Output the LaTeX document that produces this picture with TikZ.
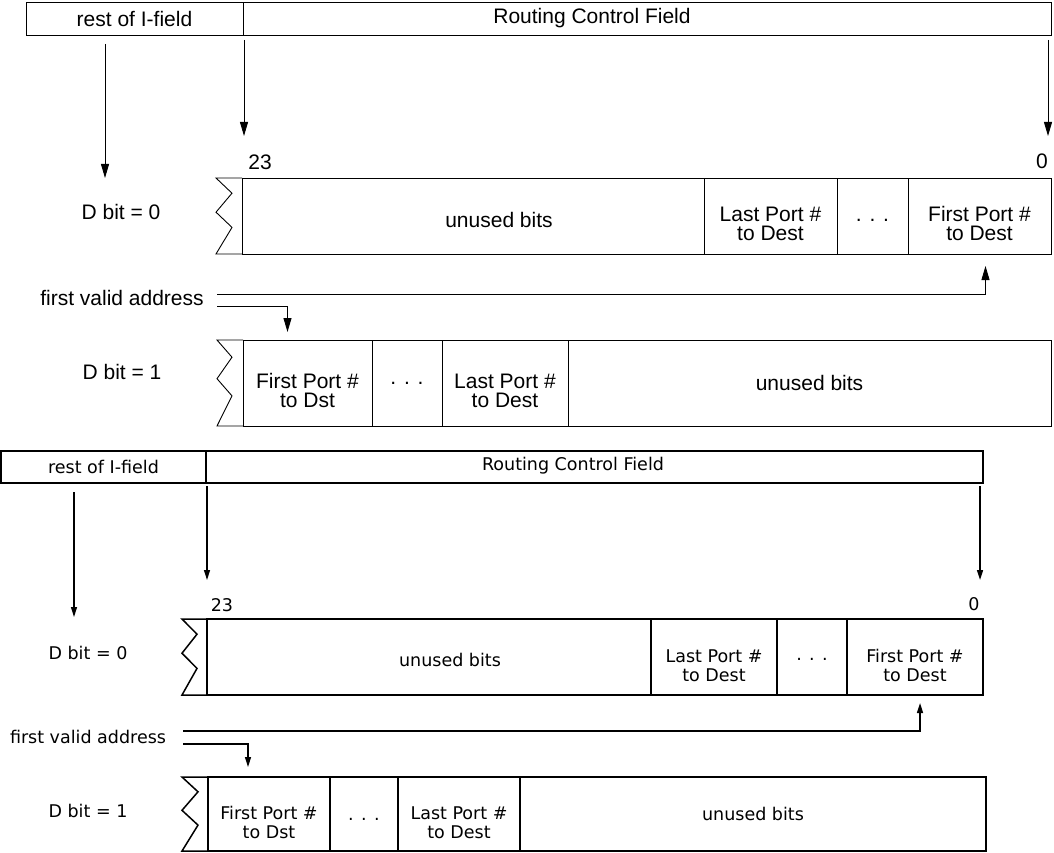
\documentclass[tikz,border=0pt]{standalone}
\usepackage{fontspec}
\setmainfont{Liberation Sans}
\newfontfamily\pixfont{DejaVu Sans}
\usetikzlibrary{positioning,calc,arrows.meta}
\tikzstyle{cell}=[rectangle, draw=black, outer sep=0pt, inner sep=0pt, align=center]
\tikzstyle{ptrA}=[-{Triangle[length=14pt,width=8pt]}]
\tikzstyle{ptrB}=[-{Triangle[length=10pt,width=6pt]}]
\tikzstyle{fontA}=[font=\fontsize{21}{19}\selectfont]
\tikzstyle{fontB}=[font=\pixfont\fontsize{17.5}{19}\selectfont]
% two-line cell texts sit a little low in their cells
\newcommand{\lowr}{\rule{0pt}{30pt}}
% torn left end of a register: first cell, overhang, zig depth
\newcommand{\torn}[3]{%
  \draw (#1.north west) -- ++(-#2,0)
    -- ($(#1.north west)!0.2!(#1.south west)+(-#2+#3,0)$)
    -- ($(#1.north west)!0.45!(#1.south west)+(-#2,0)$)
    -- ($(#1.north west)!0.65!(#1.south west)+(-#2+#3,0)$)
    -- ($(#1.south west)+(-#2,0)$) -- (#1.south west);}

\begin{document}
\begin{tikzpicture}[x=1pt,y=-1pt]
\useasboundingbox (0,0) rectangle (1054,853);

%%% upper drawing
\begin{scope}[fontA, line width=0.9pt]
	\node (restA) [cell, minimum width=217pt, minimum height=33pt] at (134.5,18.5) {rest of I-field};
	\node (rcfA) [cell, minimum width=808pt, minimum height=33pt, right=0pt of restA] {};
	\node (rcfAtext) at (592,18) {Routing Control Field};

	\node (bitA23) at (260,162) {23};
	\node (bitA0) at (1042,161) {0};

	% D bit = 0
	\node (unusedA1) [cell, minimum width=462pt, minimum height=76pt] at (473,216) {};
	\node (unusedA1text) at (499,220) {unused bits};
	\node (lastA1) [cell, minimum width=133pt, minimum height=76pt, right=0pt of unusedA1] {\lowr Last Port \#\\to Dest};
	\node (dotsA1) [cell, minimum width=71pt, minimum height=76pt, right=0pt of lastA1] {\rule{0pt}{12pt}. . .};
	\node (firstA1) [cell, minimum width=143pt, minimum height=76pt, right=0pt of dotsA1] {\lowr First Port \#\\to Dest};
	\torn{unusedA1}{26}{16}

	% D bit = 1
	\node (firstA2) [cell, minimum width=129pt, minimum height=86pt] at (307.5,383) {\lowr First Port \#\\to Dst};
	\node (dotsA2) [cell, minimum width=70pt, minimum height=86pt, right=0pt of firstA2] {. . .};
	\node (lastA2) [cell, minimum width=126pt, minimum height=86pt, right=0pt of dotsA2] {\lowr Last Port \#\\to Dest};
	\node (unusedA2) [cell, minimum width=483pt, minimum height=86pt, right=0pt of lastA2] {unused bits};
	\torn{firstA2}{26}{15}

	\node (dbitA0) at (121,212) {D bit = 0};
	\node (fvaA) at (122,298) {first valid address};
	\node (dbitA1) at (122,372) {D bit = 1};

	\coordinate (tipA0) at (105,178);
	\coordinate (tipA23) at (244,136);
	\coordinate (tipA00) at (1048,136);
	\draw[ptrA] ($(restA.south -| tipA0)+(0,9)$) -- (tipA0);
	\draw[ptrA] ($(rcfA.south -| tipA23)+(0,5)$) -- (tipA23);
	\draw[ptrA] ($(rcfA.south -| tipA00)+(0,5)$) -- (tipA00);

	\draw[ptrA] ($(fvaA.east)+(10,-4)$) -| ($(firstA1.south)+(6,12)$);
	\draw[ptrA] ($(fvaA.east)+(10,8)$) -| ($(firstA2.north)+(-20,-8)$);
\end{scope}

%%% lower drawing
\begin{scope}[fontB, line width=1.5pt]
	\node (restB) [cell, minimum width=205pt, minimum height=32pt] at (103.5,467) {rest of I-field};
	\node (rcfB) [cell, minimum width=777pt, minimum height=32pt, right=0pt of restB] {};
	\node (rcfBtext) at (573,466) {Routing Control Field};

	\node (bitB23) at (222,605) {23};
	\node (bitB0) at (974,604) {0};

	% D bit = 0
	\node (unusedB1) [cell, minimum width=444pt, minimum height=76pt] at (429,657) {};
	\node (unusedB1text) at (450,660) {unused bits};
	\node (lastB1) [cell, minimum width=126pt, minimum height=76pt, right=0pt of unusedB1] {\lowr Last Port \#\\to Dest};
	\node (dotsB1) [cell, minimum width=70pt, minimum height=76pt, right=0pt of lastB1] {\rule{0pt}{6pt}. . .};
	\node (firstB1) [cell, minimum width=136pt, minimum height=76pt, right=0pt of dotsB1] {\lowr First Port \#\\to Dest};
	\torn{unusedB1}{25}{15}

	% D bit = 1
	\node (firstB2) [cell, minimum width=122pt, minimum height=74pt] at (269,814) {\lowr First Port \#\\to Dst};
	\node (dotsB2) [cell, minimum width=68pt, minimum height=74pt, right=0pt of firstB2] {\rule{0pt}{12pt}. . .};
	\node (lastB2) [cell, minimum width=122pt, minimum height=74pt, right=0pt of dotsB2] {\lowr Last Port \#\\to Dest};
	\node (unusedB2) [cell, minimum width=466pt, minimum height=74pt, right=0pt of lastB2] {unused bits};
	\torn{firstB2}{26}{16}

	\node (dbitB0) at (88,653) {D bit = 0};
	\node (fvaB) at (88,737) {first valid address};
	\node (dbitB1) at (88,811) {D bit = 1};

	\coordinate (tipB0) at (74,617);
	\coordinate (tipB23) at (207,580);
	\coordinate (tipB00) at (980,580);
	\draw[ptrB] ($(restB.south -| tipB0)+(0,9)$) -- (tipB0);
	\draw[ptrB] ($(rcfB.south -| tipB23)+(0,3)$) -- (tipB23);
	\draw[ptrB] ($(rcfB.south -| tipB00)+(0,3)$) -- (tipB00);

	\draw[ptrB] ($(fvaB.east)+(13,-6)$) -| ($(firstB1.south)+(5,8)$);
	\draw[ptrB] ($(fvaB.east)+(13,7)$) -| ($(firstB2.north)+(-21,-10)$);
\end{scope}

\end{tikzpicture}
\end{document}
